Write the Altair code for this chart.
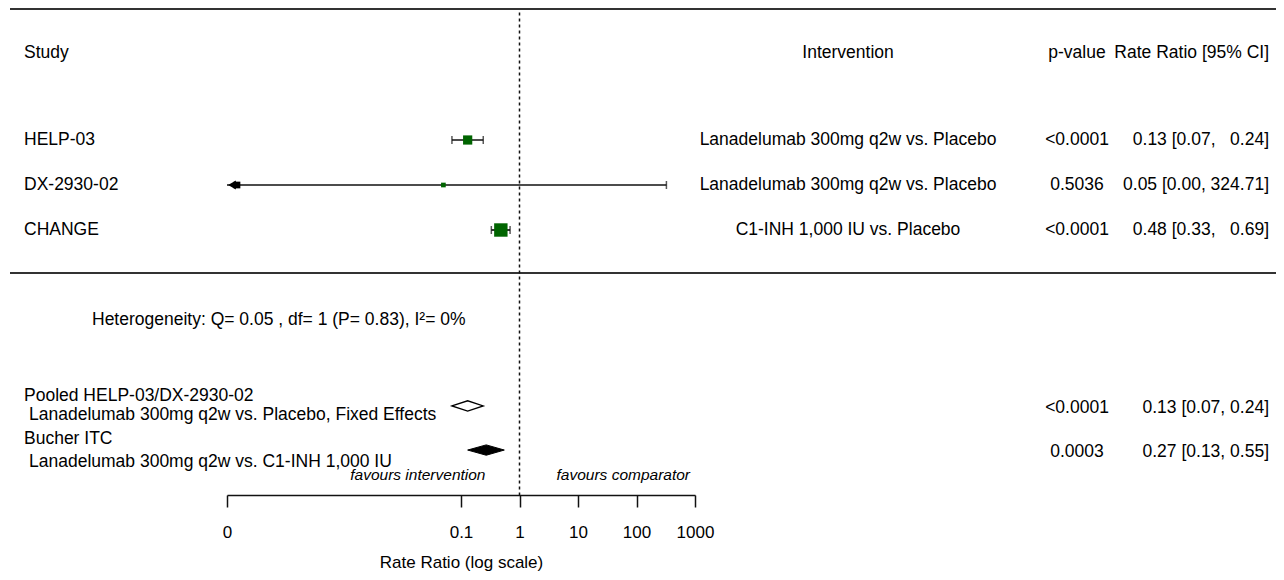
import altair as alt
import pandas as pd

# ---------------- data ----------------
studies = ["HELP-03", "DX-2930-02", "CHANGE"]
interventions = ["Lanadelumab 300mg q2w vs. Placebo",
                 "Lanadelumab 300mg q2w vs. Placebo",
                 "C1-INH 1,000 IU vs. Placebo"]
rate_ratio = [0.13, 0.05, 0.48]
ci_lower = [0.07, 0.0000077, 0.33]
ci_upper = [0.24, 324.71, 0.69]
p_values = ["<0.0001", "0.5036", "<0.0001"]
ci_labels = ["0.13 [0.07,   0.24]", "0.05 [0.00, 324.71]", "0.48 [0.33,   0.69]"]
study_weight = [85, 22, 180]          # marker area (relative weight)

summary_titles = ["Pooled HELP-03/DX-2930-02", "Bucher ITC"]
summary_subtitles = ["Lanadelumab 300mg q2w vs. Placebo, Fixed Effects",
                     "Lanadelumab 300mg q2w vs. C1-INH 1,000 IU"]
summary_rr = [0.13, 0.27]
summary_lower = [0.07, 0.13]
summary_upper = [0.24, 0.55]
summary_p = ["<0.0001", "0.0003"]
summary_ci = ["0.13 [0.07, 0.24]", "0.27 [0.13, 0.55]"]

heterogeneity_text = "Heterogeneity: Q= 0.05 , df= 1 (P= 0.83), I\u00b2= 0%"
header_labels = ["Study", "Intervention", "p-value", "Rate Ratio [95% CI]"]
favours_labels = ["favours intervention", "favours comparator"]
tick_values = [0.00001, 0.1, 1, 10, 100, 1000]
tick_labels = ["0", "0.1", "1", "10", "100", "1000"]
axis_title = "Rate Ratio (log scale)"

# ---------------- layout ----------------
W, H = 1268, 487
FONT = "Liberation Sans"
FS = 17.5
ROW0, STEP = 132, 45
y_scale = alt.Scale(domain=[-ROW0 / STEP, (H - ROW0) / STEP], reverse=True, nice=False, zero=False)
x_min, x_max = tick_values[0], tick_values[-1]
x_scale = alt.Scale(type="log", domain=[x_min, x_max], range=[219, 687], nice=False)

label_expr = ""
for v, l in zip(tick_values, tick_labels):
    label_expr += f"abs(datum.value - {v}) < {v * 1e-3} ? '{l}' : "
label_expr += "''"

x_axis = alt.Axis(values=tick_values, labelExpr=label_expr, grid=False,
                  tickSize=12, tickWidth=1.5, tickColor="#111", domainColor="#111",
                  domainWidth=1.5, labelFont=FONT, labelFontSize=17, labelColor="#000",
                  labelPadding=17, labelFlush=False, title=axis_title, titleFont=FONT,
                  titleFontSize=17, titleFontWeight="normal", titleColor="#000",
                  titlePadding=14)


def X(field):
    return alt.X(field, type="quantitative", scale=x_scale, axis=x_axis)


def Y(field):
    return alt.Y(field, type="quantitative", scale=y_scale, axis=None)


ROW_HEADER = -1.94
ROW_LINES = [-2.911, 2.956]
ROW_HET = 4.0
ROW_SUMMARY = [5.91, 6.89]
ROW_FAVOURS = 7.444
ROW_AXIS = (H - ROW0) / STEP

rows = list(range(len(studies)))
studies_df = pd.DataFrame({
    "row": rows, "study": studies, "intervention": interventions,
    "rr": rate_ratio, "lo": ci_lower, "hi": ci_upper, "p": p_values,
    "ci": [s.replace(" ", "\u00a0") for s in ci_labels], "w": study_weight,
})
studies_df["lo_plot"] = studies_df["lo"].clip(lower=x_min)
studies_df["clipped"] = studies_df["lo"] < x_min

summ_df = pd.DataFrame({
    "row": ROW_SUMMARY, "title": summary_titles, "sub": summary_subtitles,
    "rr": summary_rr, "lo": summary_lower, "hi": summary_upper,
    "p": summary_p, "ci": summary_ci,
})
summ_df["row_title"] = summ_df["row"] + pd.Series([-0.23, -0.25])
summ_df["row_sub"] = summ_df["row"] + pd.Series([0.19, 0.26])
summ_df["row_val"] = summ_df["row"] + 0.04

DH = 0.115
diamond_rows = []
for i in range(len(summary_rr)):
    r = ROW_SUMMARY[i]
    diamond_rows += [
        {"id": i, "x": summary_lower[i], "top": r, "bot": r},
        {"id": i, "x": summary_rr[i], "top": r - DH, "bot": r + DH},
        {"id": i, "x": summary_upper[i], "top": r, "bot": r},
    ]
diamond_df = pd.DataFrame(diamond_rows)

base_text = dict(font=FONT, fontSize=FS, color="#000", baseline="middle")

layers = []

# horizontal separator lines
layers.append(alt.Chart(pd.DataFrame({"row": ROW_LINES})).mark_rule(
    color="#333", strokeWidth=2).encode(y=Y("row"), x=alt.value(2), x2=alt.value(W)))

# dashed reference line at RR = 1
layers.append(alt.Chart(pd.DataFrame({"x": [1], "y0": [ROW_LINES[0] + 0.08], "y1": [ROW_AXIS]})).mark_rule(
    color="#111", strokeWidth=1.5, strokeDash=[3, 3]).encode(x=X("x"), y=Y("y0"), y2=alt.Y2("y1")))

# headers
hdr = pd.DataFrame({"row": [ROW_HEADER] * 4, "label": header_labels})
hdr_pos = [(16, "left"), (840, "center"), (1069, "center"), (1261, "right")]
for i, (px, al) in enumerate(hdr_pos):
    layers.append(alt.Chart(hdr.iloc[[i]]).mark_text(align=al, **base_text).encode(
        y=Y("row"), x=alt.value(px), text="label:N"))

# study rows text
for field, px, al in [("study", 16, "left"), ("intervention", 840, "center"),
                      ("p", 1069, "center"), ("ci", 1261, "right")]:
    layers.append(alt.Chart(studies_df).mark_text(align=al, **base_text).encode(
        y=Y("row"), x=alt.value(px), text=f"{field}:N"))

# CI lines
layers.append(alt.Chart(studies_df).mark_rule(color="#111", strokeWidth=1.7).encode(
    x=X("lo_plot"), x2="hi:Q", y=Y("row")))
# caps
layers.append(alt.Chart(studies_df).transform_filter("!datum.clipped").mark_tick(
    orient="vertical", size=8, thickness=1.5, color="#111").encode(x=X("lo"), y=Y("row")))
layers.append(alt.Chart(studies_df).mark_tick(
    orient="vertical", size=8, thickness=1.5, color="#111").encode(x=X("hi"), y=Y("row")))
# arrow for clipped lower bound
layers.append(alt.Chart(studies_df).transform_filter("datum.clipped").mark_point(
    shape="triangle-left", filled=True, color="#000", opacity=1, size=80).encode(
    x=X("lo_plot"), y=Y("row"), xOffset=alt.value(5)))
layers.append(alt.Chart(studies_df).transform_filter("datum.clipped").mark_square(
    color="#000", opacity=1, size=45).encode(
    x=X("lo_plot"), y=Y("row"), xOffset=alt.value(10)))
# squares
layers.append(alt.Chart(studies_df).mark_square(color="#006400", opacity=1).encode(
    x=X("rr"), y=Y("row"), size=alt.Size("w:Q", scale=None, legend=None)))

# heterogeneity
layers.append(alt.Chart(pd.DataFrame({"row": [ROW_HET], "t": [heterogeneity_text]})).mark_text(
    align="left", **base_text).encode(y=Y("row"), x=alt.value(84), text="t:N"))

# summary text
layers.append(alt.Chart(summ_df).mark_text(align="left", **base_text).encode(
    y=Y("row_title"), x=alt.value(16), text="title:N"))
layers.append(alt.Chart(summ_df).mark_text(align="left", **base_text).encode(
    y=Y("row_sub"), x=alt.value(21), text="sub:N"))
layers.append(alt.Chart(summ_df).mark_text(align="center", **base_text).encode(
    y=Y("row_val"), x=alt.value(1069), text="p:N"))
layers.append(alt.Chart(summ_df).mark_text(align="right", **base_text).encode(
    y=Y("row_val"), x=alt.value(1261), text="ci:N"))

# diamonds
layers.append(alt.Chart(diamond_df).transform_filter("datum.id == 0").mark_area(
    fill="white", stroke="#000", strokeWidth=1.3, opacity=1).encode(
    x=X("x"), y=Y("top"), y2="bot:Q"))
layers.append(alt.Chart(diamond_df).transform_filter("datum.id == 1").mark_area(
    fill="#000", stroke="#000", strokeWidth=1, opacity=1).encode(
    x=X("x"), y=Y("top"), y2="bot:Q"))

# favours labels
fav = pd.DataFrame({"x": [1, 1], "row": [ROW_FAVOURS] * 2, "t": favours_labels})
layers.append(alt.Chart(fav.iloc[[0]]).mark_text(align="right", dx=-34, fontStyle="italic",
    font=FONT, fontSize=15.5, color="#000", baseline="middle").encode(x=X("x"), y=Y("row"), text="t:N"))
layers.append(alt.Chart(fav.iloc[[1]]).mark_text(align="left", dx=37, fontStyle="italic",
    font=FONT, fontSize=15.5, color="#000", baseline="middle").encode(x=X("x"), y=Y("row"), text="t:N"))

chart = alt.layer(*layers).properties(
    width=W, height=H,
    autosize=alt.AutoSizeParams(type="none"),
    padding={"left": 0, "top": 0, "right": 0, "bottom": 77},
).configure_view(stroke=None)

chart.save("out.html", embed_options={"renderer": "svg", "actions": False})
